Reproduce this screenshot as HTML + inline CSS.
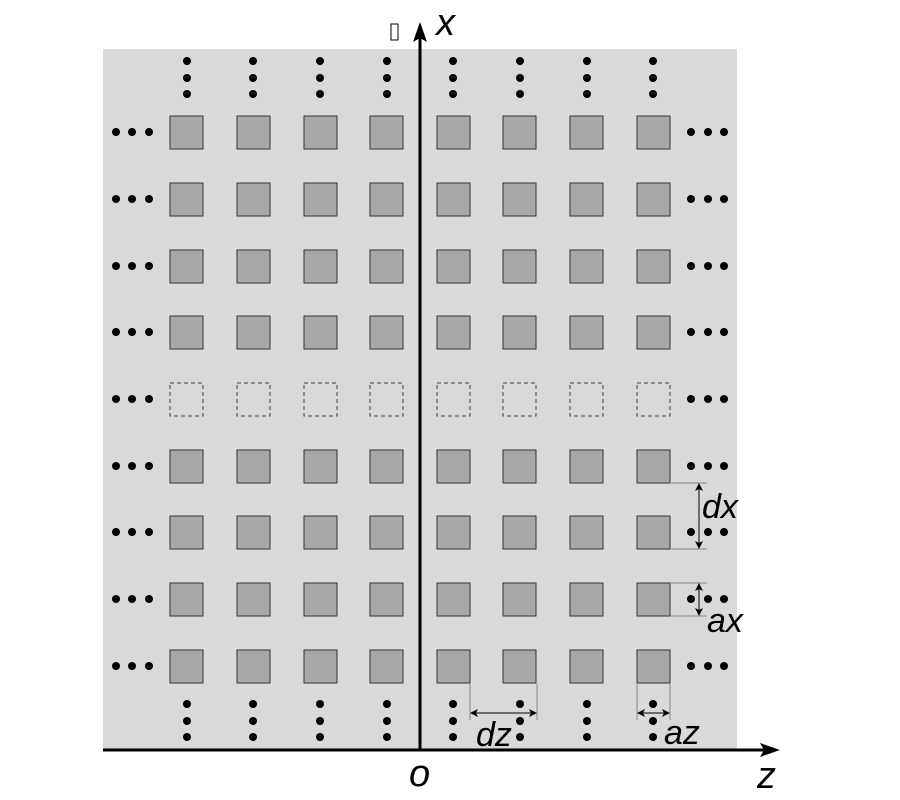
<!DOCTYPE html>
<html><head><meta charset="utf-8"><style>html,body{margin:0;padding:0;background:#fff}svg{display:block}</style></head>
<body>
<svg width="900" height="800" viewBox="0 0 900 800" xmlns="http://www.w3.org/2000/svg" xmlns:xlink="http://www.w3.org/1999/xlink">
<defs>
<g id="row">
<rect x="170" y="0" width="33" height="33"/><rect x="237" y="0" width="33" height="33"/><rect x="304" y="0" width="33" height="33"/><rect x="370" y="0" width="33" height="33"/>
<rect x="437" y="0" width="33" height="33"/><rect x="503" y="0" width="33" height="33"/><rect x="570" y="0" width="33" height="33"/><rect x="637" y="0" width="33" height="33"/>
</g>
<g id="hd"><circle cx="116" cy="0" r="4"/><circle cx="132" cy="0" r="4"/><circle cx="149" cy="0" r="4"/><circle cx="691" cy="0" r="4"/><circle cx="708" cy="0" r="4"/><circle cx="724" cy="0" r="4"/></g>
<g id="vd"><circle cx="0" cy="0" r="4"/><circle cx="0" cy="17" r="4"/><circle cx="0" cy="33" r="4"/></g>
<marker id="ah" markerWidth="8" markerHeight="8" refX="7" refY="4" orient="auto-start-reverse" markerUnits="userSpaceOnUse"><path d="M0,0 L8,4 L0,8 L2,4 Z" fill="#000"/></marker>
</defs>
<rect x="103" y="49" width="634" height="701" fill="#d9d9d9"/>
<g fill="#a8a8a8" stroke="#333" stroke-width="1">
<use xlink:href="#row" y="116"/><use xlink:href="#row" y="183"/><use xlink:href="#row" y="250"/><use xlink:href="#row" y="316"/>
<use xlink:href="#row" y="450"/><use xlink:href="#row" y="516"/><use xlink:href="#row" y="583"/><use xlink:href="#row" y="650"/>
</g>
<g fill="none" stroke="#444" stroke-width="1" stroke-dasharray="4,3"><use xlink:href="#row" y="383"/></g>
<g fill="#000">
<use xlink:href="#hd" y="132"/><use xlink:href="#hd" y="199"/><use xlink:href="#hd" y="266"/><use xlink:href="#hd" y="332"/><use xlink:href="#hd" y="399"/><use xlink:href="#hd" y="466"/><use xlink:href="#hd" y="532"/><use xlink:href="#hd" y="599"/><use xlink:href="#hd" y="666"/>
<use xlink:href="#vd" x="187" y="61"/><use xlink:href="#vd" x="253" y="61"/><use xlink:href="#vd" x="320" y="61"/><use xlink:href="#vd" x="387" y="61"/><use xlink:href="#vd" x="453" y="61"/><use xlink:href="#vd" x="520" y="61"/><use xlink:href="#vd" x="587" y="61"/><use xlink:href="#vd" x="653" y="61"/>
<use xlink:href="#vd" x="187" y="704"/><use xlink:href="#vd" x="253" y="704"/><use xlink:href="#vd" x="320" y="704"/><use xlink:href="#vd" x="387" y="704"/><use xlink:href="#vd" x="453" y="704"/><use xlink:href="#vd" x="520" y="704"/><use xlink:href="#vd" x="587" y="704"/><use xlink:href="#vd" x="653" y="704"/>
</g>
<g stroke="#888" stroke-width="1">
<line x1="671" y1="483" x2="707" y2="483"/><line x1="671" y1="549" x2="707" y2="549"/>
<line x1="671" y1="583" x2="707" y2="583"/><line x1="671" y1="616" x2="707" y2="616"/>
<line x1="470" y1="684" x2="470" y2="720"/><line x1="537" y1="684" x2="537" y2="720"/>
<line x1="637" y1="684" x2="637" y2="720"/><line x1="670" y1="684" x2="670" y2="720"/>
</g>
<g stroke="#000" stroke-width="1" marker-start="url(#ah)" marker-end="url(#ah)">
<line x1="699" y1="484" x2="699" y2="548"/>
<line x1="699" y1="584" x2="699" y2="615"/>
<line x1="471" y1="713" x2="536" y2="713"/>
<line x1="638" y1="713" x2="669" y2="713"/>
</g>
<line x1="420" y1="750" x2="420" y2="36" stroke="#000" stroke-width="3"/>
<path d="M420,22 L427,42 L420,38 L413,42 Z" fill="#000"/>
<line x1="103" y1="750" x2="766" y2="750" stroke="#000" stroke-width="3"/>
<path d="M780,750 L760,743 L764,750 L760,757 Z" fill="#000"/>
<g font-family="Liberation Sans, sans-serif" font-style="italic" fill="#000">
<text x="436" y="35" font-size="38">x</text>
<text x="409" y="786" font-size="38">o</text>
<text x="757" y="788" font-size="38">z</text>
<text x="702" y="518" font-size="34">dx</text>
<text x="707" y="632" font-size="34">ax</text>
<text x="476" y="746" font-size="34">dz</text>
<text x="664" y="744" font-size="34">az</text>
</g>
<rect x="391" y="24" width="7" height="16" fill="none" stroke="#000" stroke-width="1"/>
</svg>
</body></html>
